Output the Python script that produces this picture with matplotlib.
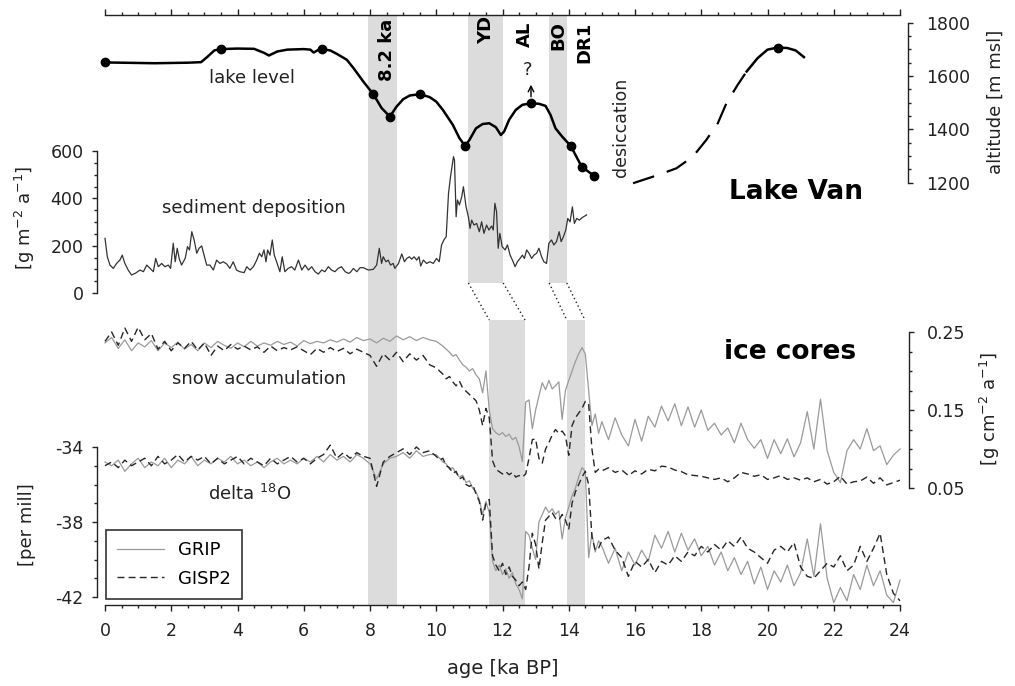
import numpy as np
import matplotlib
matplotlib.use("Agg")
import matplotlib.pyplot as plt
from matplotlib.ticker import MultipleLocator, FixedLocator

plt.rcParams['font.family'] = ['DejaVu Sans']
plt.rcParams['axes.unicode_minus'] = False
plt.rcParams['mathtext.default'] = 'regular'

# ---------------- data ----------------
# Lake Van lake level [m msl]
lake_age = [0.0, 0.5, 1.0, 1.5, 2.0, 2.5, 2.9, 3.1, 3.3, 3.49,
            4.0, 4.5, 4.8, 4.95, 5.2, 5.5, 6.0, 6.2, 6.3, 6.45,
            6.54, 6.8, 7.0, 7.3, 7.5, 7.8, 8.1, 8.35, 8.6, 8.8,
            9.0, 9.2, 9.51, 9.8, 10.0, 10.2, 10.5, 10.7, 10.87, 11.0,
            11.2, 11.4, 11.6, 11.8, 11.95, 12.05, 12.2, 12.4, 12.6, 12.86,
            13.1, 13.3, 13.45, 13.6, 13.8, 14.06, 14.39, 14.76]
lake_level = [1651, 1650, 1649, 1648, 1649, 1650, 1652, 1673, 1696, 1701,
              1703, 1702, 1687, 1677, 1692, 1699, 1701, 1699, 1688, 1699,
              1701, 1696, 1683, 1661, 1630, 1579, 1532, 1480, 1448, 1485,
              1513, 1527, 1532, 1521, 1504, 1473, 1417, 1367, 1338, 1360,
              1404, 1420, 1423, 1408, 1379, 1392, 1436, 1473, 1492, 1498,
              1496, 1488, 1454, 1404, 1373, 1338, 1260, 1226]
lake_dash_age = [15.94, 16.7, 17.25, 17.75, 18.15, 18.5, 18.76, 19.1, 19.37]
lake_dash_level = [1198, 1229, 1254, 1298, 1360, 1423, 1498, 1567, 1617]
lake_late_age = [19.37, 19.7, 20.0, 20.31, 20.6, 20.85, 21.1]
lake_late_level = [1617, 1667, 1699, 1707, 1705, 1696, 1671]
lake_mark_age = [0.0, 3.49, 6.54, 8.1, 8.6, 9.51, 10.87, 12.86, 14.06, 14.39, 14.76, 20.31]
lake_mark_level = [1651, 1701, 1701, 1532, 1448, 1532, 1338, 1498, 1338, 1260, 1226, 1707]

# Lake Van sediment deposition [g m-2 a-1]
sed_age = [0.00, 0.07, 0.15, 0.25, 0.35, 0.45, 0.52, 0.60, 0.70, 0.80,
           0.91, 1.06, 1.16, 1.26, 1.36, 1.46, 1.53, 1.61, 1.71, 1.81,
           1.91, 1.98, 2.06, 2.12, 2.18, 2.24, 2.31, 2.42, 2.49, 2.55,
           2.62, 2.69, 2.77, 2.84, 2.92, 2.99, 3.07, 3.17, 3.27, 3.37,
           3.47, 3.57, 3.67, 3.77, 3.87, 3.97, 4.07, 4.20, 4.28, 4.38,
           4.48, 4.58, 4.66, 4.73, 4.80, 4.86, 4.91, 4.98, 5.05, 5.11,
           5.18, 5.28, 5.35, 5.43, 5.53, 5.63, 5.73, 5.84, 5.94, 6.04,
           6.14, 6.24, 6.34, 6.44, 6.54, 6.64, 6.74, 6.84, 6.94, 7.04,
           7.14, 7.25, 7.35,
           7.40, 7.50, 7.60, 7.70, 7.80, 7.95,
           8.10, 8.20, 8.28, 8.35, 8.40, 8.48, 8.55, 8.62, 8.70, 8.75,
           8.86, 8.96, 9.04, 9.11, 9.19, 9.26, 9.33, 9.41, 9.48, 9.53,
           9.61, 9.71, 9.81, 9.91, 10.01, 10.09, 10.16, 10.23, 10.30, 10.37,
           10.43, 10.52, 10.55, 10.60, 10.64, 10.70, 10.77, 10.82, 10.90, 10.97,
           11.02, 11.07, 11.14, 11.22, 11.30, 11.37, 11.44, 11.52, 11.59, 11.67,
           11.72, 11.77, 11.82, 11.87, 11.92, 11.99, 12.08, 12.15, 12.23, 12.30,
           12.38, 12.45, 12.53, 12.60, 12.66, 12.73, 12.80, 12.88, 12.95, 13.03,
           13.10, 13.18, 13.25, 13.33, 13.40, 13.48, 13.55, 13.63, 13.71, 13.77,
           13.84, 13.91, 13.97, 14.04, 14.11, 14.17, 14.24, 14.32, 14.41, 14.54]
sed_val = [231, 153, 118, 104, 125, 139, 160, 125, 97, 76,
           83, 97, 90, 118, 104, 90, 146, 111, 125, 111,
           118, 104, 210, 132, 189, 146, 118, 146, 196, 182,
           259, 224, 168, 189, 199, 160, 118, 118, 97, 139,
           125, 132, 123, 104, 132, 97, 90, 86, 111, 97,
           111, 139, 168, 153, 182, 132, 182, 160, 224, 160,
           132, 90, 153, 90, 104, 111, 97, 139, 97, 118,
           97, 111, 90, 80, 97, 90, 111, 97, 90, 104,
           111, 90, 83,
           86, 104, 90, 107, 107, 97,
           100, 118, 189, 125, 153, 132, 139, 118, 125, 104,
           125, 165, 132, 146, 153, 143, 153, 139, 153, 114,
           139, 125, 132, 125, 146, 132, 203, 224, 238, 421,
           491, 576, 562, 322, 393, 372, 407, 449, 364, 322,
           273, 308, 287, 294, 259, 301, 252, 287, 266, 283,
           266, 379, 344, 189, 252, 196, 182, 203, 160, 139,
           111, 132, 146, 160, 146, 182, 168, 146, 160, 168,
           189, 153, 132, 125, 210, 224, 203, 217, 259, 217,
           238, 266, 315, 301, 364, 294, 315, 308, 319, 330]

# Ice cores: common age grid (0.2 ka steps, 0.1 ka between 10 and 15 ka)
ice_age = np.round(np.concatenate([np.arange(0, 50) * 0.2,
                                   np.arange(100, 150) / 10.0,
                                   np.arange(75, 121) * 0.2]), 2)

grip_acc = [
    0.236, 0.243, 0.229, 0.240, 0.226, 0.236, 0.231, 0.239, 0.226, 0.236,
    0.230, 0.237, 0.228, 0.234, 0.226, 0.236, 0.230, 0.238, 0.233, 0.229,
    0.236, 0.231, 0.238, 0.232, 0.236, 0.233, 0.238, 0.234, 0.237, 0.232,
    0.239, 0.235, 0.238, 0.236, 0.240, 0.237, 0.241, 0.237, 0.243, 0.239,
    0.241, 0.236, 0.242, 0.238, 0.245, 0.240, 0.244, 0.239, 0.243, 0.240,
    # 10.0 - 14.9
    0.238, 0.235, 0.232, 0.228, 0.224, 0.219, 0.221, 0.214, 0.208, 0.205,
    0.200, 0.203, 0.195, 0.190, 0.172, 0.200, 0.150, 0.126, 0.121, 0.118,
    0.121, 0.116, 0.119, 0.112, 0.115, 0.103, 0.084, 0.160, 0.163, 0.126,
    0.150, 0.168, 0.185, 0.176, 0.188, 0.177, 0.181, 0.186, 0.138, 0.175,
    0.188, 0.200, 0.212, 0.222, 0.230, 0.222, 0.175, 0.130, 0.145, 0.120,
    # 15.0 - 24.0
    0.135, 0.112, 0.140, 0.118, 0.104, 0.138, 0.110, 0.142, 0.128, 0.155,
    0.136, 0.158, 0.130, 0.154, 0.128, 0.150, 0.124, 0.133, 0.118, 0.127,
    0.108, 0.133, 0.112, 0.101, 0.112, 0.088, 0.112, 0.094, 0.113, 0.090,
    0.108, 0.148, 0.100, 0.164, 0.098, 0.070, 0.057, 0.098, 0.112, 0.100,
    0.126, 0.098, 0.104, 0.080, 0.092, 0.100]

gisp2_acc = [
    0.238, 0.250, 0.233, 0.255, 0.238, 0.256, 0.240, 0.248, 0.228, 0.238,
    0.226, 0.236, 0.229, 0.238, 0.227, 0.236, 0.220, 0.232, 0.226, 0.234,
    0.228, 0.232, 0.227, 0.231, 0.224, 0.232, 0.226, 0.230, 0.227, 0.231,
    0.226, 0.221, 0.229, 0.224, 0.230, 0.225, 0.229, 0.222, 0.228, 0.224,
    0.220, 0.206, 0.222, 0.214, 0.224, 0.212, 0.222, 0.214, 0.220, 0.208,
    # 10.0 - 14.9
    0.204, 0.200, 0.196, 0.190, 0.193, 0.186, 0.181, 0.187, 0.178, 0.174,
    0.170, 0.166, 0.162, 0.150, 0.130, 0.152, 0.140, 0.085, 0.074, 0.071,
    0.068, 0.071, 0.067, 0.070, 0.064, 0.066, 0.064, 0.068, 0.088, 0.112,
    0.113, 0.088, 0.082, 0.100, 0.108, 0.118, 0.125, 0.120, 0.123, 0.117,
    0.092, 0.130, 0.140, 0.146, 0.152, 0.161, 0.158, 0.100, 0.070, 0.074,
    # 15.0 - 24.0
    0.072, 0.076, 0.070, 0.073, 0.066, 0.072, 0.068, 0.074, 0.072, 0.078,
    0.077, 0.073, 0.071, 0.067, 0.066, 0.065, 0.063, 0.061, 0.063, 0.058,
    0.063, 0.070, 0.068, 0.065, 0.067, 0.061, 0.063, 0.066, 0.061, 0.063,
    0.060, 0.063, 0.058, 0.061, 0.055, 0.058, 0.065, 0.055, 0.058, 0.059,
    0.064, 0.056, 0.063, 0.054, 0.057, 0.060]

grip_d18o = [
    -34.8, -35.0, -34.7, -35.3, -34.9, -34.6, -35.1, -34.8, -35.0, -34.6,
    -35.1, -34.7, -34.9, -34.5, -35.0, -34.7, -34.9, -34.6, -34.8, -34.5,
    -34.9, -34.7, -35.0, -34.8, -35.1, -34.8, -34.6, -34.9, -34.7, -34.9,
    -34.6, -34.8, -34.5, -34.8, -34.4, -34.7, -34.5, -34.8, -34.4, -34.6,
    -34.9, -35.7, -34.9, -34.6, -34.5, -34.3, -34.6, -34.2, -34.5, -34.4,
    # 10.0 - 14.9
    -34.4, -34.6, -34.8, -34.9, -35.2, -35.1, -35.4, -35.6, -35.5, -35.9,
    -35.8, -36.2, -36.4, -36.8, -37.6, -36.9, -37.5, -40.1, -40.6, -40.3,
    -40.8, -40.5, -41.0, -40.7, -41.3, -41.6, -42.1, -38.5, -38.7, -39.4,
    -40.0, -38.0, -37.6, -37.2, -37.5, -37.3, -37.6, -37.4, -38.9, -37.8,
    -37.2, -36.6, -36.2, -35.6, -35.1, -35.3, -39.9, -38.6, -39.6, -39.0,
    # 15.0 - 24.0
    -39.3, -40.2, -39.4, -40.6, -39.6, -40.3, -39.5, -40.1, -38.7, -39.4,
    -38.5, -39.6, -38.6, -39.5, -38.9, -39.8, -39.3, -40.3, -39.6, -40.6,
    -39.9, -40.8, -40.1, -41.3, -40.4, -41.6, -40.6, -41.2, -40.3, -41.4,
    -40.7, -38.9, -40.9, -38.1, -41.0, -42.3, -41.5, -42.2, -40.8, -41.6,
    -40.3, -41.4, -40.6, -41.9, -42.3, -41.1]

gisp2_d18o = [
    -35.0, -34.8, -35.1, -34.7, -35.0, -34.8, -34.6, -35.0, -34.5, -34.9,
    -34.7, -34.4, -34.8, -34.5, -34.7, -34.5, -34.9, -34.6, -34.9, -34.7,
    -34.5, -34.9, -34.6, -34.8, -35.0, -34.6, -34.9, -34.7, -34.5, -34.8,
    -34.6, -34.9, -34.6, -34.4, -33.9, -34.6, -34.3, -34.6, -34.3, -34.5,
    -34.6, -36.1, -34.8, -34.5, -34.3, -34.1, -34.4, -34.0, -34.3, -34.2,
    # 10.0 - 14.9
    -34.5, -34.7, -34.6, -35.0, -35.1, -35.4, -35.3, -35.7, -35.6, -36.0,
    -36.1, -36.0, -36.5, -36.9, -37.9, -37.0, -36.8, -39.8, -40.3, -40.6,
    -40.2, -40.8, -40.4, -40.9, -41.1, -41.4, -41.2, -41.6, -40.4, -38.6,
    -39.2, -40.5, -39.1, -37.9, -37.7, -37.5, -37.8, -37.9, -37.6, -37.9,
    -38.4, -37.0, -36.4, -36.0, -35.6, -35.3, -36.0, -38.8, -39.5, -39.4,
    # 15.0 - 24.0
    -39.0, -38.8, -39.5, -39.9, -40.9, -40.1, -40.4, -40.0, -40.7, -40.1,
    -40.3, -39.8, -40.1, -39.6, -39.8, -39.3, -39.6, -39.2, -39.5, -39.0,
    -39.3, -38.8, -39.4, -39.6, -39.9, -40.2, -39.5, -39.3, -39.6, -39.1,
    -40.4, -40.9, -41.0, -40.6, -40.2, -40.4, -39.8, -40.6, -40.3, -39.3,
    -40.1, -39.4, -38.6, -40.8, -41.8, -42.2]

# event bands [ka BP]
band_82 = (7.95, 8.81)
lake_bands = [(10.97, 12.02), (13.41, 13.94)]   # YD, BO in the Lake Van record
ice_bands = [(11.60, 12.68), (13.94, 14.49)]    # YD, BO in the ice cores
event_labels = ['8.2 ka', 'YD', 'AL', 'BO', 'DR1']
event_label_age = [8.51, 11.52, 12.68, 13.69, 14.46]

# ---------------- figure ----------------
INK = '#222222'
BAND = '#dcdcdc'
GRIP_C = '#9a9a9a'
GISP_C = '#262626'

W, H = 1015.0, 686.0
X0, X1 = 105.0, 900.0
TOP, BOT = 15.0, 605.0
PX = 72.0 / 100.0   # points per pixel

fig = plt.figure(figsize=(W / 100, H / 100), dpi=100)


def rect(ytop, ybot):
    return [X0 / W, 1 - ybot / H, (X1 - X0) / W, (ybot - ytop) / H]


def yfrac(ypx):
    return (BOT - ypx) / (BOT - TOP)


base = fig.add_axes(rect(TOP, BOT))
base.set_xlim(0, 24)
base.set_ylim(0, 1)
base.set_yticks([])
base.patch.set_visible(False)
for s in ['left', 'right']:
    base.spines[s].set_visible(False)
for s in ['top', 'bottom']:
    base.spines[s].set_linewidth(1.0)
    base.spines[s].set_color(INK)
base.xaxis.set_major_locator(MultipleLocator(2))
base.xaxis.set_minor_locator(MultipleLocator(0.5))
base.tick_params(axis='x', which='both', direction='out', top=True, bottom=True,
                 labeltop=False, labelsize=12.5, colors=INK, width=1.0)
base.tick_params(axis='x', which='major', length=4.5, pad=7.5)
base.tick_params(axis='x', which='minor', length=2.5)
base.set_xlabel('age [ka BP]', fontsize=14, color=INK, labelpad=14)

up_low = yfrac(283)
low_top = yfrac(320)
base.axvspan(band_82[0], band_82[1], 0, 1, facecolor=BAND, edgecolor='none', zorder=0)
for (a, b) in lake_bands:
    base.axvspan(a, b, up_low, 1, facecolor=BAND, edgecolor='none', zorder=0)
for (a, b) in ice_bands:
    base.axvspan(a, b, 0, low_top, facecolor=BAND, edgecolor='none', zorder=0)
for (la, lb), (ia, ib) in zip(lake_bands, ice_bands):
    base.plot([la, ia], [up_low, low_top], ls=(0, (1, 2)), color=INK, lw=1.0)
    base.plot([lb, ib], [up_low, low_top], ls=(0, (1, 2)), color=INK, lw=1.0)


def overlay(ytop, ybot, ylim, side, offset_px, pad):
    ax = fig.add_axes(rect(ytop, ybot))
    ax.set_xlim(0, 24)
    ax.set_ylim(*ylim)
    ax.patch.set_visible(False)
    for s in ax.spines:
        ax.spines[s].set_visible(False)
    ax.spines[side].set_visible(True)
    ax.spines[side].set_position(('outward', offset_px * PX))
    ax.spines[side].set_color(INK)
    ax.spines[side].set_linewidth(1.0)
    ax.set_xticks([])
    ax.yaxis.set_ticks_position(side)
    ax.tick_params(axis='y', which='both', direction='out', colors=INK,
                   labelsize=12.5, width=1.0, pad=pad)
    ax.tick_params(axis='y', which='major', length=3.8)
    ax.tick_params(axis='y', which='minor', length=2.3)
    return ax


# lake level
ax_lake = overlay(22.7, 182.7, (1200, 1800), 'right', 8, 9)
ax_lake.yaxis.set_major_locator(MultipleLocator(200))
ax_lake.yaxis.set_minor_locator(MultipleLocator(50))
ax_lake.plot(lake_age, lake_level, color='black', lw=1.8, clip_on=False)
ax_lake.plot(lake_dash_age, lake_dash_level, color='black', lw=1.6,
             ls=(0, (10, 6)), clip_on=False)
ax_lake.plot(lake_late_age, lake_late_level, color='black', lw=1.8, clip_on=False)
ax_lake.plot(lake_mark_age, lake_mark_level, 'o', color='black', ms=6, clip_on=False)
ax_lake.annotate('', xy=(12.86, 1578), xytext=(12.86, 1512),
                 arrowprops=dict(arrowstyle='->', color='black', lw=1.0))
ax_lake.text(12.75, 1623, '?', fontsize=13, ha='center', va='center', color=INK)

# sediment deposition
ax_sed = overlay(151, 293, (0, 600), 'left', 8, 6)
ax_sed.yaxis.set_major_locator(MultipleLocator(200))
ax_sed.yaxis.set_minor_locator(MultipleLocator(50))
ax_sed.plot(sed_age, sed_val, color='#333333', lw=0.9, clip_on=False)

# snow accumulation
ax_acc = overlay(332, 488, (0.05, 0.25), 'right', 9, 9)
ax_acc.yaxis.set_major_locator(FixedLocator([0.05, 0.15, 0.25]))
ax_acc.yaxis.set_minor_locator(MultipleLocator(0.025))
ax_acc.plot(ice_age, grip_acc, color=GRIP_C, lw=0.9, clip_on=False)
ax_acc.plot(ice_age, gisp2_acc, color=GISP_C, lw=1.0, ls=(0, (5, 3)), clip_on=False)

# delta 18O
ax_d = overlay(447, 597, (-42, -34), 'left', 8, 6)
ax_d.yaxis.set_major_locator(FixedLocator([-42, -38, -34]))
ax_d.yaxis.set_minor_locator(MultipleLocator(1))
l1, = ax_d.plot(ice_age, grip_d18o, color=GRIP_C, lw=0.9, clip_on=False)
l2, = ax_d.plot(ice_age, gisp2_d18o, color=GISP_C, lw=1.0, ls=(0, (5, 3)), clip_on=False)

# ---------------- texts ----------------
label_y = {'8.2 ka': 50, 'YD': 30, 'AL': 34, 'BO': 36, 'DR1': 42.5}
for lab, a in zip(event_labels, event_label_age):
    base.text(a, yfrac(label_y[lab]), lab, rotation=90, fontsize=13, fontweight='bold',
              ha='center', va='center', color='black')
base.text(15.57, yfrac(127.5), 'desiccation', rotation=90, fontsize=12.5,
          ha='center', va='center', color=INK)
base.text(4.44, yfrac(78), 'lake level', fontsize=13, ha='center', va='center', color=INK)
base.text(4.5, yfrac(208), 'sediment deposition', fontsize=13, ha='center', va='center', color=INK)
base.text(4.65, yfrac(379), 'snow accumulation', fontsize=13, ha='center', va='center', color=INK)
base.text(4.35, yfrac(494), 'delta $^{18}$O', fontsize=13, ha='center', va='center', color=INK)
base.text(20.86, yfrac(192), 'Lake Van', fontsize=19, fontweight='bold', ha='center', va='center', color='black')
base.text(20.68, yfrac(352), 'ice cores', fontsize=19, fontweight='bold', ha='center', va='center', color='black')

fig.text(25 / W, 1 - 218 / H, '[g m$^{-2}$ a$^{-1}$]', rotation=90, fontsize=13,
         ha='center', va='center', color=INK)
fig.text(27 / W, 1 - 525 / H, '[per mill]', rotation=90, fontsize=13,
         ha='center', va='center', color=INK)
fig.text(996 / W, 1 - 102 / H, 'altitude [m msl]', rotation=90, fontsize=13,
         ha='center', va='center', color=INK)
fig.text(990 / W, 1 - 409 / H, '[g cm$^{-2}$ a$^{-1}$]', rotation=90, fontsize=13,
         ha='center', va='center', color=INK)

leg = fig.legend(handles=[l1, l2], labels=['GRIP', 'GISP2'], loc='upper left',
                 bbox_to_anchor=(106 / W, 1 - 530 / H), frameon=True, fancybox=False,
                 edgecolor='black', fontsize=13, handlelength=2.6, borderpad=0.6,
                 labelspacing=0.6, handletextpad=0.8, borderaxespad=0.0)
leg.get_frame().set_linewidth(1.2)

fig.savefig('out.png', dpi=100)
